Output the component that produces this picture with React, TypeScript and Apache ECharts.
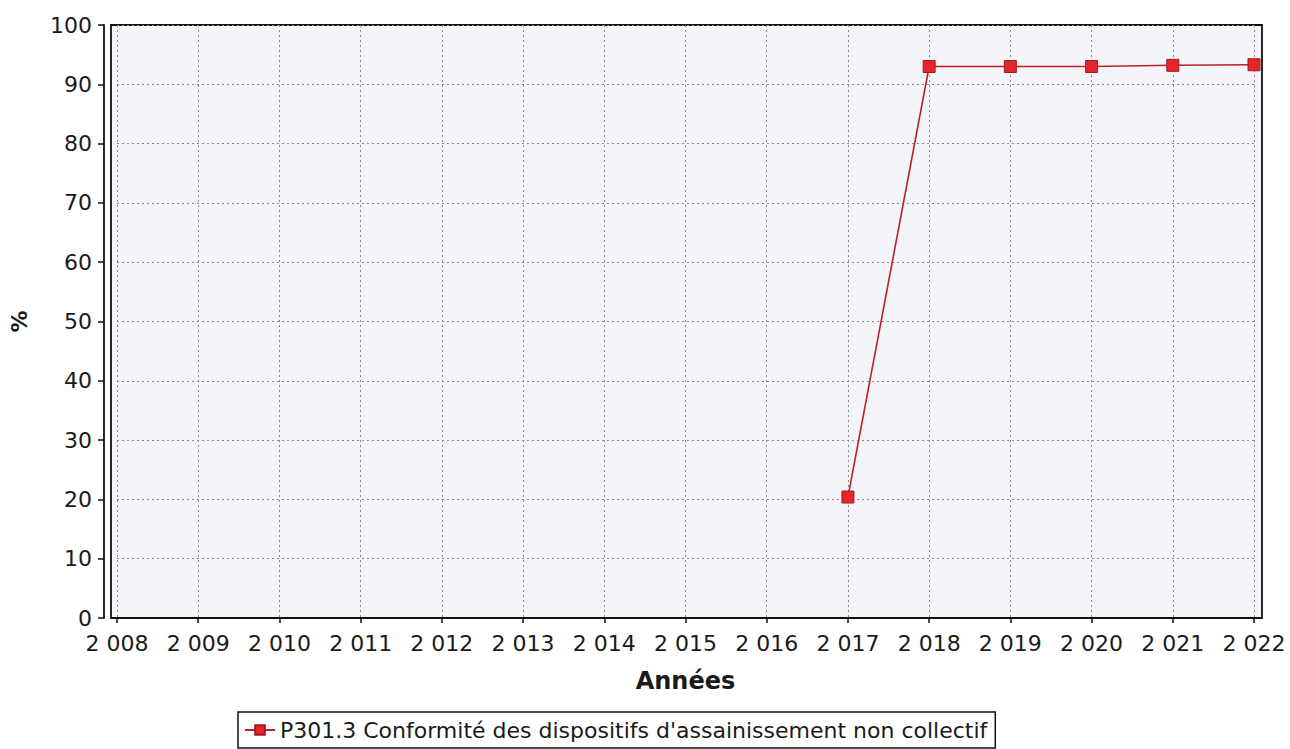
import React, { useEffect, useRef } from "react";
import * as echarts from "echarts";

const years = ["2 008", "2 009", "2 010", "2 011", "2 012", "2 013", "2 014", "2 015", "2 016", "2 017", "2 018", "2 019", "2 020", "2 021", "2 022"];
const values: (number | null)[] = [null, null, null, null, null, null, null, null, null, 20.4, 93, 93, 93, 93.2, 93.3];
const seriesName = "P301.3 Conformité des dispositifs d'assainissement non collectif";

export default function App() {
  const ref = useRef<HTMLDivElement>(null);
  useEffect(() => {
    document.body.style.margin = "0";
    const chart = echarts.init(ref.current!, null, { renderer: "svg" });
    const font = "DejaVu Sans";
    chart.setOption({
      animation: false,
      backgroundColor: "#ffffff",
      textStyle: { fontFamily: font },
      grid: [
        { left: 117, right: 36, top: 25, height: 593, containLabel: false },
        { left: 111, right: 28, top: 25, height: 593, show: true, backgroundColor: "#f4f5fa", borderColor: "#111", borderWidth: 1.8, z: -1 },
      ],
      xAxis: [
        {
          type: "category",
          data: years,
          boundaryGap: false,
          offset: 5.5,
          name: "Années",
          nameLocation: "middle",
          nameGap: 45,
          nameTextStyle: { fontSize: 24, fontWeight: "bold", color: "#1a1a1a", fontFamily: font },
          axisLine: { lineStyle: { color: "#111", width: 1.8 } },
          axisTick: { show: true, length: 5, alignWithLabel: true, lineStyle: { color: "#111", width: 1.5 } },
          axisLabel: { fontSize: 22, color: "#1a1a1a", margin: 9, fontFamily: font, interval: 0 },
          splitLine: { show: true, lineStyle: { color: "#8a8a8a", type: [2, 3], width: 1 } },
        },
        { gridIndex: 1, type: "value", show: false, min: 0, max: 1 },
      ],
      yAxis: [
        {
          type: "value",
          min: 0,
          max: 100,
          interval: 10,
          offset: 13,
          name: "%",
          nameLocation: "middle",
          nameGap: 74,
          nameTextStyle: { fontSize: 22, fontWeight: "bold", color: "#1a1a1a", fontFamily: font },
          axisLine: { show: true, lineStyle: { color: "#111", width: 1.8 } },
          axisTick: { show: true, length: 6, lineStyle: { color: "#111", width: 1.5 } },
          axisLabel: { fontSize: 22, color: "#1a1a1a", margin: 12, fontFamily: font },
          splitLine: { show: true, lineStyle: { color: "#8a8a8a", type: [2, 3], width: 1 } },
        },
        { gridIndex: 1, type: "value", show: false, min: 0, max: 1 },
      ],
      legend: {
        left: 238,
        top: 712,
        padding: [7, 8, 7, 6],
        borderColor: "#111",
        borderWidth: 1.5,
        itemWidth: 30,
        itemHeight: 12,
        itemGap: 6,
        textStyle: { fontSize: 22, color: "#1a1a1a", fontFamily: font },
        data: [seriesName],
      },
      series: [
        {
          name: seriesName,
          type: "line",
          data: values,
          connectNulls: false,
          symbol: "rect",
          symbolSize: 12,
          itemStyle: { color: "#e3262b", borderColor: "#a81820", borderWidth: 1 },
          lineStyle: { color: "#c01f2a", width: 1.6 },
        },
      ],
    });
    return () => chart.dispose();
  }, []);
  return <div ref={ref} style={{ width: 1290, height: 749 }} />;
}
